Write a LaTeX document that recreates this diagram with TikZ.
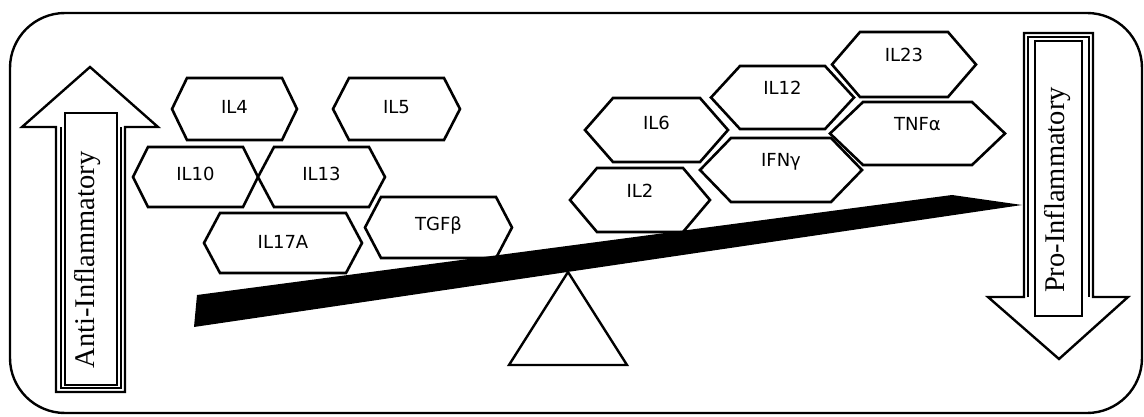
\documentclass[tikz,border=0pt]{standalone}
\usepackage{fontspec}
\setmainfont{Liberation Serif}
\newfontfamily\hexfont{DejaVu Sans}
\newcommand\hexa[8]{%
  \node[hexbox, minimum width=#4, minimum height=#5] (#1) at (#2,#3) {};
  \draw[hexline] (#1.west) -- ([xshift=#8]#1.north west) -- ([xshift=-#8]#1.north east) -- (#1.east) -- ([xshift=-#8]#1.south east) -- ([xshift=#8]#1.south west) -- cycle;
  \node[hextext] (#1-t) at ([yshift=#6]#1.center) {#7};}
\begin{document}
\begin{tikzpicture}[x=1pt,y=-1pt,
  frame/.style={draw, line width=2.4pt, rounded corners=55pt},
  hexbox/.style={inner sep=0pt, outer sep=0pt},
  hexline/.style={draw, fill=white, line width=2.6pt, line join=miter},
  hextext/.style={font=\hexfont\fontsize{18}{20}\selectfont, inner sep=0pt},
  arrowline/.style={draw, fill=white, line width=2.4pt, line join=miter},
  inline/.style={line width=2pt},
  textbox/.style={draw, fill=white, line width=2.2pt, inner sep=0pt},
  sidetext/.style={rotate=90, inner sep=0pt, font=\fontsize{28.5}{30}\selectfont},
]
\useasboundingbox (0,0) rectangle (1144,417);
\fill[white] (0,0) rectangle (1144,417);
\draw[frame] (10,13) rectangle (1142,413);

% left arrow
\draw[arrowline] (90,67) -- (158,127) -- (125,127) -- (125,392) -- (56,392) -- (56,127) -- (22,127) -- cycle;
\draw[inline] (61,127) -- (61,388) -- (121,388) -- (121,127);
\node[textbox, minimum width=52, minimum height=272] (antibox) at (91,249) {};
\node[sidetext] (antitext) at (88,260) {Anti-Inflammatory};

% right arrow
\draw[arrowline] (1024,33) -- (1093,33) -- (1093,297) -- (1128,297) -- (1059,359) -- (988,297) -- (1024,297) -- cycle;
\draw[inline] (1028,297) -- (1028,37) -- (1089,37) -- (1089,297);
\node[textbox, minimum width=47, minimum height=275] (probox) at (1058.5,178.5) {};
\node[sidetext] (protext) at (1058,190) {Pro-Inflammatory};

% hexagons
\hexa{il4}{234.5}{109}{125}{62}{2}{IL4}{15}
\hexa{il5}{396.5}{109}{127}{62}{2}{IL5}{16}
\hexa{il10}{195.5}{177}{125}{60}{3}{IL10}{15}
\hexa{il13}{321.5}{177}{127}{60}{3}{IL13}{16}
\hexa{il17a}{283}{243}{158}{60}{1}{IL17A}{16}
\hexa{tgfb}{438.5}{227.5}{147}{61}{2.5}{TGFβ}{16}
\hexa{il23}{904}{64.5}{144}{65}{9.5}{IL23}{28}
\hexa{il12}{782.5}{97.5}{143}{63}{9.5}{IL12}{29}
\hexa{tnfa}{917.5}{133.5}{175}{63}{9.5}{TNFα}{33}
\hexa{il6}{656.5}{130}{143}{64}{7}{IL6}{28}
\hexa{ifng}{781}{170}{162}{64}{8}{IFNγ}{31}
\hexa{il2}{640}{200}{140}{64}{9}{IL2}{27}

% fulcrum and beam
\draw[line width=2.4pt, fill=white, line join=miter] (568,272) -- (627,365) -- (509,365) -- cycle;
\fill (197,295) -- (952,195) -- (1022,205) -- (194,327) -- cycle;
\end{tikzpicture}
\end{document}
